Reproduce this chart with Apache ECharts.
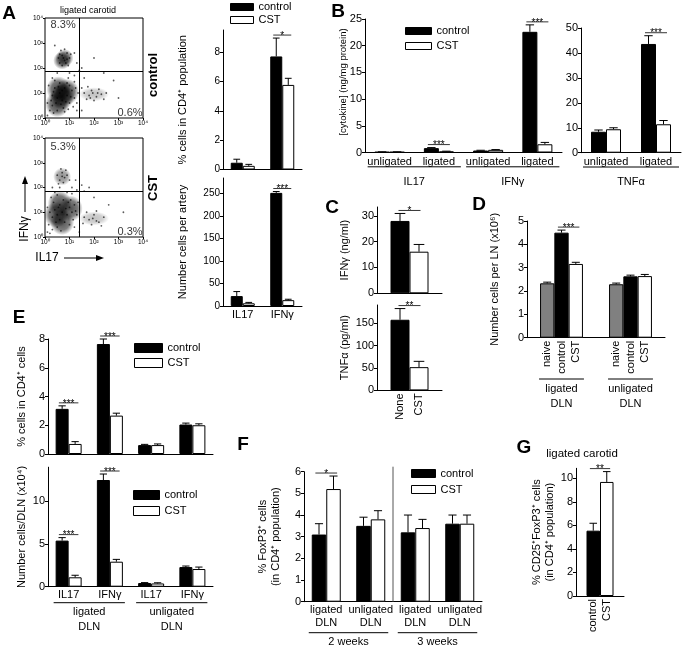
<!DOCTYPE html>
<html><head><meta charset="utf-8">
<script src="https://cdn.jsdelivr.net/npm/echarts@6/dist/echarts.min.js"></script>
<style>html,body{margin:0;padding:0;background:#fff}#c{width:685px;height:647px}</style>
</head><body><div id="c"></div>
<script>
const FONT = '"Liberation Sans", Arial, Helvetica, sans-serif';

// ---------- Panel A: flow cytometry dot plots (log10 units) ----------
const flowTickLabels = ['10⁰', '10¹', '10²', '10³', '10⁴'];
const flowCtrlDense = [[0.7, 0.85], [0.5, 0.55], [0.9, 1.05], [0.55, 1.15]];
const flowCtrlClusters = [[0.8, 2.4], [0.7, 2.3]];
const flowCtrlTail = [[2.0, 0.95]];
const flowCtrlDots = [[0.6,2.2],[0.7,2.5],[0.8,2.3],[0.9,2.6],[0.75,2.4],[0.85,2.2],[0.65,2.7],[1.0,2.4],[0.55,2.4],[0.95,2.1],[0.7,2.1],[0.8,2.75],[0.6,2.55],[1.05,2.55],[0.9,2.35],
  [0.3,0.5],[0.5,0.8],[0.6,1.0],[0.7,0.7],[0.8,1.2],[0.9,0.9],[1.0,0.6],[1.1,1.1],[0.4,1.2],[0.5,0.3],[0.75,0.4],[1.2,0.8],[0.3,0.9],[0.6,1.4],[0.9,1.4],[1.0,1.3],[0.2,0.3],[0.45,0.6],[0.65,0.55],[0.85,0.65],[1.15,0.45],[0.35,1.05],[1.25,1.2],[0.55,1.25],[0.95,0.35],[0.25,0.7],[0.7,1.1],[1.05,0.85],[0.8,0.25],[1.3,0.6],
  [0.15,1.3],[0.35,0.2],[1.35,1.0],[1.2,1.45],[0.4,1.5],[0.1,0.6],[1.3,0.3],[0.95,1.6],
  [1.6,1.0],[1.8,0.9],[1.9,1.1],[2.1,0.85],[2.3,0.95],[2.0,0.7],[1.7,0.75],[2.2,1.15],[2.5,1.0],[1.5,1.2],[2.4,0.75],[1.75,1.25],[1.95,1.0],[2.15,1.0],[1.85,0.8],
  [1.2,1.7],[1.4,1.9],[1.0,1.8],[1.6,1.6],[0.5,1.8],[2.0,2.4],[1.3,2.2],[2.8,1.5],[3.0,0.8],[0.1,0.1],[1.5,0.3],[0.3,1.6],[1.5,2.0],[1.2,2.6],[0.4,2.9],[2.4,1.8]];
const flowCtrlGate = [1.38, 1.87];
const flowCtrlPct = ['8.3%', '0.6%'];

const flowCstDense = [[0.45, 0.9], [1.05, 1.15], [0.7, 0.6], [0.6, 1.35]];
const flowCstClusters = [[0.7, 2.44]];
const flowCstTail = [[2.0, 0.75]];
const flowCstDots = [[0.6,2.3],[0.7,2.6],[0.8,2.4],[0.5,2.5],[0.75,2.2],[0.9,2.5],[0.65,2.75],[0.55,2.15],[0.85,2.7],[1.0,2.3],[0.7,2.45],[0.6,2.0],
  [0.3,0.8],[0.4,1.1],[0.5,0.9],[0.6,1.3],[0.45,0.6],[0.35,1.4],[0.55,1.2],[0.2,1.0],[0.5,0.4],[0.3,0.3],[0.6,0.7],[0.25,1.6],[1.0,1.2],[1.1,1.0],[1.2,1.3],[0.9,0.9],[1.05,1.5],[1.15,0.7],[0.95,1.4],[1.25,1.05],[0.85,1.15],[1.0,0.5],[0.8,0.6],[0.7,1.0],[0.75,1.5],[0.15,0.5],[0.4,1.8],[0.9,1.8],[1.3,0.9],[0.65,0.25],
  [0.1,1.2],[1.35,1.4],[0.2,0.15],[1.2,0.4],[0.5,1.7],[1.1,1.75],
  [1.6,0.8],[1.8,0.7],[2.0,0.9],[2.2,0.6],[1.9,0.5],[2.4,0.8],[1.7,1.0],[2.1,1.05],[1.55,0.55],[2.3,0.45],[1.95,0.75],[2.1,0.65],
  [1.3,1.9],[1.5,2.1],[1.8,2.0],[1.1,2.0],[2.0,1.6],[0.3,2.0],[2.6,1.3],[1.4,0.2],[3.2,1.0],[0.1,0.2],[1.6,1.85],[1.25,2.3]];
const flowCstGate = [1.38, 1.83];
const flowCstPct = ['5.3%', '0.3%'];

// ---------- Panel A: bar charts ----------
const aCats = ['IL17', 'IFNγ'];
const aPctTicks = [0, 2, 4, 6, 8];
const aPctCtrl = [0.46, 7.7], aPctCtrlErr = [0.24, 1.25];
const aPctCst = [0.25, 5.76], aPctCstErr = [0.1, 0.45];
const aPctSig = [{cat: 1, text: '*'}];
const aNumTicks = [0, 50, 100, 150, 200, 250];
const aNumCtrl = [22, 251], aNumCtrlErr = [10, 3];
const aNumCst = [6, 13], aNumCstErr = [2, 2];
const aNumSig = [{cat: 1, text: '***'}];

// ---------- Panel B ----------
const bCats = ['unligated', 'ligated', 'unligated', 'ligated'];
const bGroups = ['IL17', 'IFNγ'];
const bTicks = [0, 5, 10, 15, 20, 25];
const bCtrl = [0.1, 0.82, 0.37, 22.6], bCtrlErr = [0.03, 0.1, 0.05, 1.3];
const bCst = [0.1, 0.2, 0.5, 1.54], bCstErr = [0.03, 0.05, 0.05, 0.35];
const bSig = [{cat: 1, text: '***'}, {cat: 3, text: '***'}];
const bTnfCats = ['unligated', 'ligated'];
const bTnfGroups = ['TNFα'];
const bTnfTicks = [0, 10, 20, 30, 40, 50];
const bTnfCtrl = [8.4, 43.6], bTnfCtrlErr = [0.7, 3.3];
const bTnfCst = [9.4, 11.4], bTnfCstErr = [0.6, 1.5];
const bTnfSig = [{cat: 1, text: '***'}];

// ---------- Panel C ----------
const cBarLabels = ['None', 'CST'];
const cIfnTicks = [0, 10, 20, 30];
const cIfnCtrl = [28], cIfnCtrlErr = [2.9], cIfnCst = [16.1], cIfnCstErr = [2.8];
const cIfnSig = [{cat: 0, text: '*'}];
const cTnfTicks = [0, 50, 100, 150];
const cTnfCtrl = [158], cTnfCtrlErr = [25], cTnfCst = [52], cTnfCstErr = [13];
const cTnfSig = [{cat: 0, text: '**'}];

// ---------- Panel D ----------
const dCats = ['ligated', 'unligated'];
const dGroups = ['ligated\nDLN', 'unligated\nDLN'];
const dBarLabels = ['naive', 'control', 'CST'];
const dTicks = [0, 1, 2, 3, 4, 5];
const dNaive = [2.33, 2.29], dNaiveErr = [0.05, 0.05];
const dCtrl = [4.5, 2.63], dCtrlErr = [0.11, 0.05];
const dCst = [3.16, 2.64], dCstErr = [0.07, 0.07];
const dSig = [{cat: 0, text: '***'}];

// ---------- Panel E ----------
const eCats = ['IL17', 'IFNγ', 'IL17', 'IFNγ'];
const eGroups = ['ligated\nDLN', 'unligated\nDLN'];
const ePctTicks = [0, 2, 4, 6, 8];
const ePctCtrl = [3.14, 7.65, 0.62, 2.05], ePctCtrlErr = [0.21, 0.35, 0.05, 0.1];
const ePctCst = [0.7, 2.67, 0.62, 2.0], ePctCstErr = [0.16, 0.17, 0.08, 0.1];
const ePctSig = [{cat: 0, text: '***'}, {cat: 1, text: '***'}];
const eNumTicks = [0, 5, 10];
const eNumCtrl = [5.4, 12.5, 0.43, 2.3], eNumCtrlErr = [0.35, 0.7, 0.05, 0.12];
const eNumCst = [1.1, 2.93, 0.38, 2.07], eNumCstErr = [0.24, 0.27, 0.08, 0.23];
const eNumSig = [{cat: 0, text: '***'}, {cat: 1, text: '***'}];

// ---------- Panel F ----------
const fCats = ['ligated\nDLN', 'unligated\nDLN', 'ligated\nDLN', 'unligated\nDLN'];
const fGroups = ['2 weeks', '3 weeks'];
const fTicks = [0, 1, 2, 3, 4, 5, 6];
const fCtrl = [3.1, 3.5, 3.2, 3.6], fCtrlErr = [0.5, 0.4, 0.8, 0.4];
const fCst = [5.2, 3.8, 3.4, 3.6], fCstErr = [0.6, 0.4, 0.4, 0.4];
const fSig = [{cat: 0, text: '*'}];

// ---------- Panel G ----------
const gBarLabels = ['control', 'CST'];
const gTicks = [0, 2, 4, 6, 8, 10];
const gCtrl = [5.55], gCtrlErr = [0.63];
const gCst = [9.69], gCstErr = [0.88];
const gSig = [{cat: 0, text: '**'}];

// =====================================================================
const option = {animation: false, backgroundColor: '#fff', textStyle: {fontFamily: FONT},
  grid: [], xAxis: [], yAxis: [], series: [], legend: [], graphic: []};

function blob(a) {
  return {type: 'radial', x: 0.5, y: 0.5, r: 0.5, colorStops: [
    {offset: 0, color: 'rgba(0,0,0,' + a + ')'},
    {offset: 0.6, color: 'rgba(0,0,0,' + (a * 0.75) + ')'},
    {offset: 1, color: 'rgba(0,0,0,0)'}]};
}

function addFlow(f) {
  const gi = option.grid.length;
  option.grid.push({left: 45, top: f.top, width: 98, height: f.height, show: true, borderColor: '#000', borderWidth: 1,
    backgroundColor: 'transparent', outerBoundsMode: 'none', containLabel: false});
  const ax = {min: 0, max: 4, interval: 1, type: 'value', gridIndex: gi,
    axisLine: {show: false}, splitLine: {show: false},
    axisTick: {show: true, length: 2, lineStyle: {color: '#000'}},
    axisLabel: {fontSize: 6.5, margin: 2, color: '#000', fontFamily: FONT, formatter: v => flowTickLabels[v]}};
  option.xAxis.push(Object.assign({}, ax));
  option.yAxis.push(Object.assign({}, ax));
  const common = {type: 'scatter', xAxisIndex: gi, yAxisIndex: gi, silent: true};
  option.series.push(Object.assign({}, common, {data: f.dense, symbolSize: [24, 26], itemStyle: {color: blob(f.denseAlpha)}, z: 1}));
  option.series.push(Object.assign({}, common, {data: f.clusters, symbolSize: 18, itemStyle: {color: blob(f.clusterAlpha)}, z: 1}));
  option.series.push(Object.assign({}, common, {data: f.tail, symbolSize: [30, 14], itemStyle: {color: blob(0.3)}, z: 1}));
  option.series.push(Object.assign({}, common, {data: f.dots, symbolSize: 1.8, itemStyle: {color: 'rgba(0,0,0,0.8)'}, z: 2,
    markLine: {silent: true, symbol: ['none', 'none'], label: {show: false}, animation: false,
      lineStyle: {color: '#000', width: 1, type: 'solid'},
      data: [{xAxis: f.gate[0]}, {yAxis: f.gate[1]}]}}));
  option.series.push(Object.assign({}, common, {data: f.pctPos, symbolSize: 1, itemStyle: {color: 'rgba(0,0,0,0)'}, z: 5,
    label: {show: true, position: 'inside', color: '#000', fontSize: 11, fontFamily: FONT, formatter: p => f.pct[p.dataIndex]}}));
}

addFlow({top: 18, height: 100, dense: flowCtrlDense, denseAlpha: 0.9, clusters: flowCtrlClusters, clusterAlpha: 0.75,
  tail: flowCtrlTail, dots: flowCtrlDots, gate: flowCtrlGate, pct: flowCtrlPct, pctPos: [[0.74, 3.72], [3.47, 0.22]]});
addFlow({top: 138, height: 99, dense: flowCstDense, denseAlpha: 0.85, clusters: flowCstClusters, clusterAlpha: 0.55,
  tail: flowCstTail, dots: flowCstDots, gate: flowCstGate, pct: flowCstPct, pctPos: [[0.74, 3.62], [3.47, 0.2]]});

function errRender(bw, k, n) {
  return function (params, api) {
    const cat = api.value(0), v = api.value(1), e = api.value(2);
    const b = api.coord([cat, v]);
    const t = api.coord([cat, v + e]);
    const x = b[0] + (k - (n - 1) / 2) * bw;
    const cap = bw * 0.28;
    return {type: 'group', children: [
      {type: 'line', shape: {x1: x, y1: b[1], x2: x, y2: t[1]}, style: {stroke: '#000', lineWidth: 1}},
      {type: 'line', shape: {x1: x - cap, y1: t[1], x2: x + cap, y2: t[1]}, style: {stroke: '#000', lineWidth: 1}}]};
  };
}

function addBarPanel(p) {
  const gi = option.grid.length;
  const n = p.series.length;
  option.grid.push({left: p.left, top: p.top, width: p.width, height: p.height, outerBoundsMode: 'none', containLabel: false});
  option.xAxis.push({type: 'category', gridIndex: gi, data: p.cats,
    axisLine: {show: true, lineStyle: {color: '#000', width: 1}}, axisTick: {show: false},
    axisLabel: {show: !!p.showX, interval: 0, margin: p.xMargin == null ? 3 : p.xMargin, color: '#000', fontSize: 11, fontFamily: FONT, lineHeight: 13},
    splitLine: {show: false}});
  option.yAxis.push({type: 'value', gridIndex: gi, min: 0, max: p.max, interval: p.ticks[1] - p.ticks[0],
    axisLine: {show: true, lineStyle: {color: '#000', width: 1}},
    axisTick: {show: true, length: 3, customValues: p.ticks, lineStyle: {color: '#000'}},
    axisLabel: {customValues: p.ticks, margin: 3, color: '#000', fontSize: p.yFont || 11, fontFamily: FONT},
    splitLine: {show: false},
    name: p.yName, nameLocation: 'middle', nameRotate: 90, nameGap: p.nameGap,
    nameTextStyle: {color: '#000', fontSize: 11, fontFamily: FONT, lineHeight: 13}});
  p.series.forEach((s, k) => {
    option.series.push({type: 'bar', name: s.name, xAxisIndex: gi, yAxisIndex: gi, data: s.values, barWidth: p.bw, barGap: '0%',
      itemStyle: {color: s.color, borderColor: '#000', borderWidth: 1}, z: 2, silent: true,
      label: p.barLabels ? {show: true, position: 'bottom', distance: 3, rotate: 90, align: 'right', verticalAlign: 'middle',
        color: '#000', fontSize: 11, fontFamily: FONT, formatter: () => p.barLabels[k]} : {show: false}});
    option.series.push({type: 'custom', name: 'err', xAxisIndex: gi, yAxisIndex: gi, clip: false, z: 3, silent: true,
      data: s.values.map((v, i) => [i, v, s.errs[i]]), renderItem: errRender(p.bw, k, n)});
  });
  if (p.sigs) {
    const pair = p.sigPair || [0, 1];
    const centerOff = ((pair[0] + pair[1]) / 2 - (n - 1) / 2) * p.bw;
    const hw = Math.min(0.75 * p.bw, 11);
    option.series.push({type: 'custom', xAxisIndex: gi, yAxisIndex: gi, clip: false, z: 4, silent: true,
      data: p.sigs.map(sg => [sg.cat, Math.max.apply(null, pair.map(k => p.series[k].values[sg.cat] + p.series[k].errs[sg.cat]))]),
      renderItem: (params, api) => {
        const c = api.coord([api.value(0), api.value(1)]);
        const cx = c[0] + centerOff, y = c[1] - 3;
        return {type: 'group', children: [
          {type: 'line', shape: {x1: cx - hw, y1: y, x2: cx + hw, y2: y}, style: {stroke: '#000', lineWidth: 0.8}},
          {type: 'text', style: {text: p.sigs[params.dataIndex].text, x: cx, y: y + 6, align: 'center', verticalAlign: 'bottom',
            fontSize: 10, fontFamily: FONT, fill: '#000'}}]};
      }});
  }
  if (p.groups) {
    option.series.push({type: 'custom', xAxisIndex: gi, yAxisIndex: gi, clip: false, z: 4, silent: true,
      data: p.groupSpans,
      renderItem: (params, api) => {
        const a = api.coord([api.value(0), 0]), b = api.coord([api.value(1), 0]);
        const x1 = a[0] - n * p.bw / 2 - p.groupPad, x2 = b[0] + n * p.bw / 2 + p.groupPad;
        const base = a[1];
        return {type: 'group', children: [
          {type: 'line', shape: {x1: x1, y1: base + p.lineDy, x2: x2, y2: base + p.lineDy}, style: {stroke: '#000', lineWidth: 1}},
          {type: 'text', style: {text: p.groups[params.dataIndex], x: (x1 + x2) / 2, y: base + p.textDy, align: 'center', verticalAlign: 'top',
            fontSize: 11, fontFamily: FONT, fill: '#000', lineHeight: 15}}]};
      }});
  }
  if (p.separator) {
    option.series.push({type: 'custom', xAxisIndex: gi, yAxisIndex: gi, clip: false, z: 1, silent: true,
      data: [p.separator],
      renderItem: (params, api) => {
        const a = api.coord([api.value(0), 0]), b = api.coord([api.value(1), 0]);
        const x = (a[0] + b[0]) / 2;
        const cs = params.coordSys;
        return {type: 'line', shape: {x1: x, y1: cs.y - 5, x2: x, y2: cs.y + cs.height}, style: {stroke: '#555', lineWidth: 1}};
      }});
  }
}

const BLACK = '#000', WHITE = '#fff', GREY = '#808080';
const two = (c, ce, s, se) => [{name: 'control', values: c, errs: ce, color: BLACK}, {name: 'CST', values: s, errs: se, color: WHITE}];

// A
addBarPanel({left: 223, top: 30, width: 79, height: 139.5, max: 9.5, ticks: aPctTicks, bw: 12, cats: aCats, yFont: 10,
  series: two(aPctCtrl, aPctCtrlErr, aPctCst, aPctCstErr), sigs: aPctSig, yName: '% cells in CD4⁺ population', nameGap: 34});
addBarPanel({left: 223, top: 178, width: 79, height: 128, max: 284, ticks: aNumTicks, bw: 12, cats: aCats, yFont: 10, showX: true, xMargin: 2,
  series: two(aNumCtrl, aNumCtrlErr, aNumCst, aNumCstErr), sigs: aNumSig, yName: 'Number cells per artery', nameGap: 34});
// B
addBarPanel({left: 365, top: 19, width: 197, height: 133.5, max: 25, ticks: bTicks, bw: 15, cats: bCats, showX: true, xMargin: 3,
  series: two(bCtrl, bCtrlErr, bCst, bCstErr), sigs: bSig,
  groups: bGroups, groupSpans: [[0, 1], [2, 3]], groupPad: 7, lineDy: 14.3, textDy: 22});
addBarPanel({left: 581, top: 28, width: 100, height: 124.7, max: 50, ticks: bTnfTicks, bw: 15, cats: bTnfCats, showX: true, xMargin: 3,
  series: two(bTnfCtrl, bTnfCtrlErr, bTnfCst, bTnfCstErr), sigs: bTnfSig,
  groups: bTnfGroups, groupSpans: [[0, 1]], groupPad: 8, lineDy: 14.3, textDy: 22});
// C
addBarPanel({left: 377, top: 207, width: 65, height: 86.3, max: 33.4, ticks: cIfnTicks, bw: 19, cats: [''],
  series: two(cIfnCtrl, cIfnCtrlErr, cIfnCst, cIfnCstErr), sigs: cIfnSig, yName: 'IFNγ (ng/ml)', nameGap: 26});
addBarPanel({left: 377, top: 305, width: 65, height: 85.4, max: 191, ticks: cTnfTicks, bw: 19, cats: [''], barLabels: cBarLabels,
  series: two(cTnfCtrl, cTnfCtrlErr, cTnfCst, cTnfCstErr), sigs: cTnfSig, yName: 'TNFα (pg/ml)', nameGap: 26});
// D
addBarPanel({left: 527, top: 221, width: 138, height: 116.7, max: 5, ticks: dTicks, bw: 14.3, cats: dCats, barLabels: dBarLabels,
  series: [{name: 'naive', values: dNaive, errs: dNaiveErr, color: GREY}, {name: 'control', values: dCtrl, errs: dCtrlErr, color: BLACK},
    {name: 'CST', values: dCst, errs: dCstErr, color: WHITE}],
  sigs: dSig, sigPair: [1, 2], yName: 'Number cells per LN (x10⁶)', nameGap: 26,
  groups: dGroups, groupSpans: [[0, 0], [1, 1]], groupPad: 1, lineDy: 41.3, textDy: 44});
// E
addBarPanel({left: 48, top: 339, width: 165, height: 115, max: 8, ticks: ePctTicks, bw: 13, cats: eCats,
  series: two(ePctCtrl, ePctCtrlErr, ePctCst, ePctCstErr), sigs: ePctSig, yName: '% cells in CD4⁺ cells', nameGap: 20});
addBarPanel({left: 48, top: 467.2, width: 165, height: 119.5, max: 14, ticks: eNumTicks, bw: 13, cats: eCats, showX: true, xMargin: 2,
  series: two(eNumCtrl, eNumCtrlErr, eNumCst, eNumCstErr), sigs: eNumSig, yName: 'Number cells/DLN (x10⁴)', nameGap: 20,
  groups: eGroups, groupSpans: [[0, 1], [2, 3]], groupPad: 2, lineDy: 16, textDy: 18});
// F
addBarPanel({left: 304, top: 471.7, width: 178, height: 130, max: 6, ticks: fTicks, bw: 14.5, cats: fCats, showX: true, xMargin: 2,
  series: two(fCtrl, fCtrlErr, fCst, fCstErr), sigs: fSig, yName: '% FoxP3⁺ cells\n(in CD4⁺ population)', nameGap: 22,
  groups: fGroups, groupSpans: [[0, 1], [2, 3]], groupPad: 3, lineDy: 31, textDy: 33, separator: [1, 2]});
// G
addBarPanel({left: 576, top: 468.3, width: 48, height: 127.7, max: 10.85, ticks: gTicks, bw: 13.5, cats: [''], barLabels: gBarLabels,
  series: two(gCtrl, gCtrlErr, gCst, gCstErr), sigs: gSig, yName: '% CD25⁺FoxP3⁺ cells\n(in CD4⁺ population)', nameGap: 20});

// legends
const lg = (left, top, w, h, gap) => ({data: ['control', 'CST'], orient: 'vertical', left: left, top: top, itemWidth: w, itemHeight: h,
  itemGap: gap, icon: 'rect', selectedMode: false, padding: 0, itemStyle: {borderColor: '#000', borderWidth: 1},
  textStyle: {fontSize: 11, fontFamily: FONT, color: '#000', lineHeight: 10}});
option.legend = [lg(230, 1.5, 23, 7, 2), lg(405, 25.5, 26, 7, 4), lg(134, 342.5, 28, 9, 4), lg(133, 489.5, 26, 9, 5), lg(411, 468, 24, 8, 5)];

// annotations
const txt = (x, y, text, size, bold, rot) => ({type: 'text', x: x, y: y, rotation: rot || 0, silent: true,
  style: {text: text, fontSize: size, fontFamily: FONT, fontWeight: bold ? 'bold' : 'normal', fill: '#000', align: 'center', verticalAlign: 'middle'}});
option.graphic = [
  txt(9, 14, 'A', 19, true), txt(338, 12, 'B', 19, true), txt(332, 208, 'C', 19, true), txt(479, 205, 'D', 19, true),
  txt(19, 318, 'E', 19, true), txt(243, 445, 'F', 19, true), txt(524, 448, 'G', 19, true),
  txt(343, 82, '[cytokine] (ng/mg protein)', 9.5, false, Math.PI / 2),
  txt(88, 11, 'ligated carotid', 9), txt(153, 75, 'control', 13, true, Math.PI / 2), txt(153, 188, 'CST', 13, true, Math.PI / 2),
  txt(25, 229, 'IFNγ', 12, false, Math.PI / 2), txt(47, 258, 'IL17', 12),
  {type: 'line', silent: true, shape: {x1: 25, y1: 212, x2: 25, y2: 183}, style: {stroke: '#000', lineWidth: 1}},
  {type: 'polygon', silent: true, shape: {points: [[22, 184], [28, 184], [25, 176]]}, style: {fill: '#000'}},
  {type: 'line', silent: true, shape: {x1: 64, y1: 258, x2: 97, y2: 258}, style: {stroke: '#000', lineWidth: 1}},
  {type: 'polygon', silent: true, shape: {points: [[96, 255], [96, 261], [104, 258]]}, style: {fill: '#000'}},
  txt(582, 454, 'ligated carotid', 11.5)
];

const chart = echarts.init(document.getElementById('c'), null, {renderer: 'canvas', width: 685, height: 647});
chart.setOption(option);
</script></body></html>
